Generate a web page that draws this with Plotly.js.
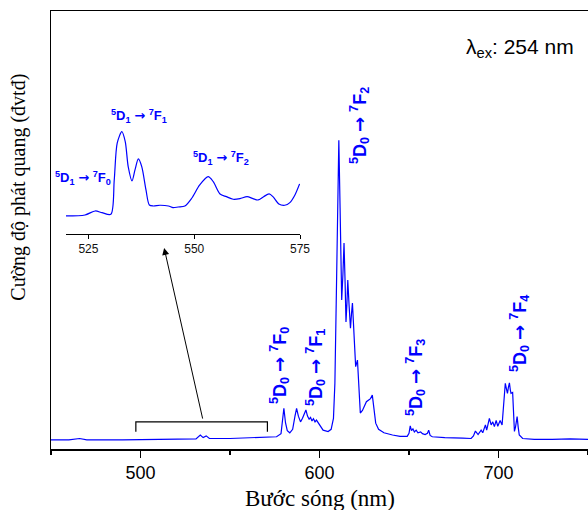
<!DOCTYPE html>
<html>
<head>
<meta charset="utf-8">
<script src="https://cdn.plot.ly/plotly-3.0.1.min.js"></script>
<style>html,body{margin:0;padding:0;background:#fff;}#chart{width:588px;height:510px;}</style>
</head>
<body>
<div id="chart"></div>
<script>
// Main emission spectrum (wavelength nm, relative intensity)
const wavelength = [450,460,466,470,490,510,525,531,533.4,535,536.7,538.5,550,560,570,576,578.5,579.5,580.1,581,582,583.4,585,586.3,587.2,588.2,589.4,590.5,592.4,593.3,594.2,595,595.8,596.6,597.5,598.3,599.2,600.5,602,604.8,606.5,607.8,608.6,609.4,610.2,610.8,611.5,612.4,613.1,613.7,614.3,614.8,615.3,615.8,616.5,617.3,617.9,618.4,619.3,620.2,621.2,622,622.8,624,625,626.2,627.5,628.5,629.5,630.3,631.4,633,636,640.8,645,649,650,650.7,651.4,652.2,653,654,655,656.5,657.5,659,660.3,661,661.8,663,670,680,684.7,686,687.1,688.6,690.3,691.2,692.7,693.4,694.9,695.9,696.8,697.7,698.7,699.6,700.9,702,702.7,703.3,703.8,704.4,705.0,705.5,706.1,706.6,707.0,707.9,708.4,708.9,709.5,710.4,711.0,711.6,713.5,720,730,740,750];
const intensity = [0.021,0.021,0.024,0.021,0.021,0.022,0.023,0.023,0.032,0.026,0.030,0.024,0.024,0.025,0.026,0.028,0.035,0.075,0.093,0.060,0.042,0.037,0.045,0.075,0.093,0.075,0.062,0.070,0.089,0.075,0.068,0.072,0.064,0.069,0.062,0.066,0.060,0.050,0.043,0.040,0.045,0.070,0.150,0.350,0.600,0.705,0.550,0.340,0.400,0.470,0.380,0.290,0.330,0.386,0.330,0.276,0.310,0.333,0.260,0.188,0.203,0.130,0.082,0.088,0.098,0.108,0.112,0.115,0.123,0.090,0.059,0.045,0.037,0.032,0.029,0.029,0.036,0.053,0.042,0.046,0.039,0.043,0.037,0.039,0.035,0.033,0.036,0.043,0.031,0.028,0.026,0.025,0.024,0.030,0.041,0.033,0.043,0.037,0.055,0.043,0.070,0.055,0.062,0.051,0.065,0.052,0.065,0.055,0.090,0.135,0.150,0.138,0.127,0.140,0.151,0.135,0.127,0.129,0.090,0.040,0.050,0.074,0.050,0.032,0.024,0.022,0.022,0.023,0.022];

// Inset: zoom of 5D1 transitions (wavelength nm, relative intensity)
const insetWavelength = [519.7,524.2,526.6,528.2,530.3,531.1,531.8,532.9,533.7,534.4,535.3,536.0,536.8,537.6,538.6,539.4,540.3,541.9,543.9,545.0,546.2,547.8,549.4,551.3,553.3,554.5,556.1,557.6,559.2,560.8,562.5,563.9,565.1,566.4,567.7,568.6,570.0,571.4,572.6,573.8,574.9];
const insetIntensity = [18,19,23,21.3,19.7,54,90.7,102.3,92.3,67.3,53,64,75,67.3,44,29,28,28.7,28,26.3,27,28,35.7,49,57.3,52.3,40,37.3,34.7,35.3,37.3,35.3,34,37.3,40,37.3,30,28.7,31.3,39,50];

const mainTicks = [500,600,700];
const insetTicks = [525,550,575];
const bracketRange = [497.4, 570.9];

const blue = 'rgb(0,0,255)';
const sans = 'Arial, "Liberation Sans", sans-serif';
const serif = '"Times New Roman", "Liberation Serif", serif';
const ARROW = '<span style="font-family:DejaVu Sans">→</span>';

function label(level, f) {
  return '<b><sup>5</sup>D<sub>' + level + '</sub> ' + ARROW + ' <sup>7</sup>F<sub>' + f + '</sub></b>';
}

const traces = [
  {x: wavelength, y: intensity, type: 'scatter', mode: 'lines',
   line: {color: blue, width: 1.2}, xaxis: 'x', yaxis: 'y', hoverinfo: 'skip'},
  {x: insetWavelength, y: insetIntensity, type: 'scatter', mode: 'lines',
   line: {color: blue, width: 1.2, shape: 'spline', smoothing: 0.8}, xaxis: 'x2', yaxis: 'y2', hoverinfo: 'skip'}
];

function rot(text, x, y) {
  return {text: text, xref: 'paper', yref: 'paper', x: x, y: y, textangle: -90,
    showarrow: false, xanchor: 'center', yanchor: 'middle',
    font: {family: sans, size: 18, color: blue, weight: 'bold'}};
}
function hor(text, x, y) {
  return {text: text, xref: 'paper', yref: 'paper', x: x, y: y,
    showarrow: false, xanchor: 'center', yanchor: 'middle',
    font: {family: sans, size: 13, color: blue, weight: 'bold'}};
}

const annotations = [
  rot(label(0, 0), 0.4264, 0.1918),
  rot(label(0, 1), 0.4935, 0.185),
  rot(label(0, 2), 0.5736, 0.7374),
  rot(label(0, 3), 0.6797, 0.1644),
  rot(label(0, 4), 0.8715, 0.2648),
  hor(label(1, 1), 0.1639, 0.760),
  hor(label(1, 0), 0.0605, 0.619),
  hor(label(1, 2), 0.3166, 0.664),
  {text: 'λ<sub>ex</sub>: 254 nm', xref: 'paper', yref: 'paper', x: 0.8734, y: 0.9155,
   showarrow: false, xanchor: 'center', yanchor: 'middle',
   font: {family: sans, size: 21, color: '#000'}},
  {text: 'Cường độ phát quang (đvtđ)', xref: 'paper', yref: 'paper', x: -0.0596, y: 0.599,
   textangle: -90, showarrow: false, xanchor: 'center', yanchor: 'middle',
   font: {family: serif, size: 20, color: '#000'}},
  {text: 'Bước sóng (nm)', xref: 'paper', yref: 'paper', x: 0.5009, y: -0.112,
   showarrow: false, xanchor: 'center', yanchor: 'middle',
   font: {family: serif, size: 23, color: '#000'}},
  {text: '', xref: 'x', yref: 'y', x: 513.2, y: 0.459, axref: 'x', ayref: 'y', ax: 534.9, ay: 0.066,
   showarrow: true, arrowhead: 2, arrowsize: 1.4, arrowwidth: 1, arrowcolor: '#000', standoff: 0, startstandoff: 0}
];

const shapes = [
  {type: 'path', xref: 'x', yref: 'y',
   path: `M ${bracketRange[0]},0.0395 L ${bracketRange[0]},0.062 L ${bracketRange[1]},0.062 L ${bracketRange[1]},0.0395`,
   line: {color: '#000', width: 1.2}}
];

const layout = {
  width: 588, height: 510,
  margin: {l: 51, r: 0, t: 11, b: 61},
  paper_bgcolor: '#fff', plot_bgcolor: '#fff',
  showlegend: false,
  xaxis: {
    domain: [0, 1], range: [450, 750], tickvals: mainTicks, ticks: 'outside', ticklen: 7, tickwidth: 1.5,
    tickcolor: '#000', showline: true, linewidth: 1.5, linecolor: '#000', mirror: true,
    showgrid: false, zeroline: false, automargin: false,
    minor: {dtick: 50, tick0: 0, ticks: 'outside', ticklen: 4, tickwidth: 1.5, tickcolor: '#000', showgrid: false},
    tickfont: {family: sans, size: 18, color: '#000'}
  },
  yaxis: {
    domain: [0, 1], range: [0, 1], showticklabels: false, ticks: '', showline: true, linewidth: 1.5,
    linecolor: '#000', mirror: false, showgrid: false, zeroline: false
  },
  xaxis2: {
    domain: [0.02793, 0.4637], range: [519.7, 575], anchor: 'y2', tickvals: insetTicks,
    ticks: 'outside', ticklen: 4, tickwidth: 1, tickcolor: '#000', showline: true, linewidth: 1, linecolor: '#000',
    showgrid: false, zeroline: false, tickfont: {family: sans, size: 12, color: '#111'}
  },
  yaxis2: {domain: [0.4909, 0.797], range: [0, 134], anchor: 'x2', visible: false},
  annotations: annotations,
  shapes: shapes
};

Plotly.newPlot('chart', traces, layout, {displayModeBar: false, staticPlot: true});
</script>
</body>
</html>
